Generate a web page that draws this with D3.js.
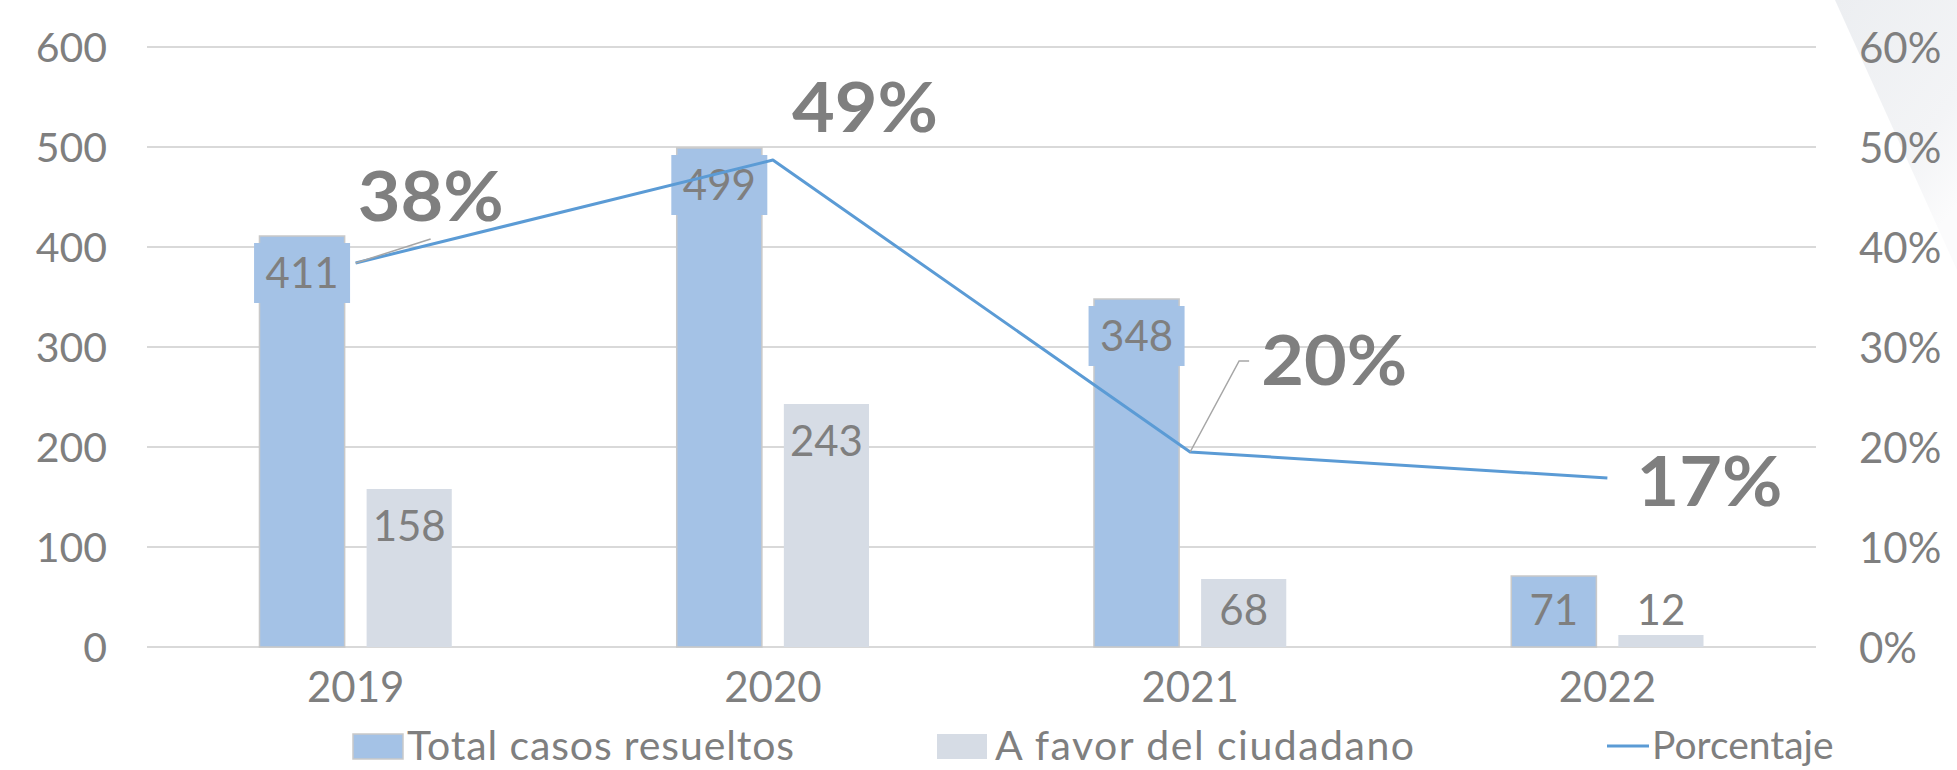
<!DOCTYPE html>
<html>
<head>
<meta charset="utf-8">
<script src="https://cdn.jsdelivr.net/npm/d3@7"></script>
<style>
  html, body { margin: 0; padding: 0; background: #ffffff; }
  svg { display: block; }
  text { font-family: Lato, "Noto Sans", sans-serif; fill: #7f7f7f; }
</style>
</head>
<body>
<svg id="chart" width="1957" height="770"></svg>
<script>
// ---- data ----
const years = ["2019", "2020", "2021", "2022"];
const totalCasos = [411, 499, 348, 71];
const aFavor = [158, 243, 68, 12];
const porcentaje = [0.384, 0.487, 0.195, 0.169];
const porcentajeLabels = ["38%", "49%", "20%", "17%"];
const leftTicks = [0, 100, 200, 300, 400, 500, 600];
const rightTicks = [0, 0.1, 0.2, 0.3, 0.4, 0.5, 0.6];
const seriesNames = ["Total casos resueltos", "A favor del ciudadano", "Porcentaje"];

// ---- layout ----
const W = 1957, H = 770;
const plot = { left: 147, right: 1816, top: 47, bottom: 647 };
const colors = { total: "#a4c2e6", favor: "#d6dce5", line: "#5b9bd5", grid: "#d9d9d9", text: "#7f7f7f", leader: "#a6a6a6" };

const svg = d3.select("#chart");

// background decoration (top-right slide texture)
const defs = svg.append("defs");
const grad = defs.append("linearGradient").attr("id", "bgGrad")
  .attr("x1", "0").attr("y1", "0").attr("x2", "0.6").attr("y2", "1");
grad.append("stop").attr("offset", "0%").attr("stop-color", "#eceef1");
grad.append("stop").attr("offset", "70%").attr("stop-color", "#f3f4f6");
grad.append("stop").attr("offset", "100%").attr("stop-color", "#fbfbfc");
svg.append("path")
  .attr("d", "M1835,0 L1957,0 L1957,270 Z")
  .attr("fill", "url(#bgGrad)");

const x0 = d3.scaleBand().domain(years).range([plot.left, plot.right]);
const x1 = d3.scaleBand().domain(["total", "favor"]).range([0, x0.bandwidth()])
  .paddingInner(0.205).paddingOuter(1.05);
const y = d3.scaleLinear().domain([0, 600]).range([plot.bottom, plot.top]);
const yR = d3.scaleLinear().domain([0, 0.6]).range([plot.bottom, plot.top]);

// gridlines
svg.append("g").selectAll("line").data(leftTicks).join("line")
  .attr("x1", plot.left).attr("x2", plot.right)
  .attr("y1", d => y(d)).attr("y2", d => y(d))
  .attr("stroke", colors.grid).attr("stroke-width", 2);

// left axis
const leftAxis = svg.append("g").attr("transform", `translate(${plot.left},0)`)
  .call(d3.axisLeft(y).tickValues(leftTicks).tickSize(0).tickPadding(40));
leftAxis.select(".domain").remove();
leftAxis.selectAll("text").style("font-size", "41px").attr("fill", colors.text).attr("dy", "0.36em");

// right axis
const rightAxis = svg.append("g").attr("transform", `translate(${plot.right},0)`)
  .call(d3.axisRight(yR).tickValues(rightTicks).tickSize(0).tickPadding(43).tickFormat(d3.format(".0%")));
rightAxis.select(".domain").remove();
rightAxis.selectAll("text").style("font-size", "42px").attr("fill", colors.text).attr("dy", "0.36em");

// bottom axis
const bottomAxis = svg.append("g").attr("transform", `translate(0,${plot.bottom})`)
  .call(d3.axisBottom(x0).tickSize(0).tickPadding(40));
bottomAxis.select(".domain").remove();
bottomAxis.selectAll("text").style("font-size", "42px").attr("fill", colors.text).attr("dy", "0.36em");

// data rows
const rows = years.map((yr, i) => ({ year: yr, total: totalCasos[i], favor: aFavor[i], pct: porcentaje[i], pctLabel: porcentajeLabels[i] }));

const groups = svg.append("g").selectAll("g").data(rows).join("g")
  .attr("transform", d => `translate(${x0(d.year)},0)`);

// bars
groups.append("rect")
  .attr("x", x1("total")).attr("width", x1.bandwidth())
  .attr("y", d => y(d.total)).attr("height", d => y(0) - y(d.total))
  .attr("fill", colors.total).attr("stroke", "#c9c9c9").attr("stroke-width", 1.5);
groups.append("rect")
  .attr("x", x1("favor")).attr("width", x1.bandwidth())
  .attr("y", d => y(d.favor)).attr("height", d => y(0) - y(d.favor))
  .attr("fill", colors.favor);

// data labels
const labelY = v => Math.min(y(v) + 37, y(0) - 37);
groups.filter(d => y(d.total) + 37 < y(0) - 37).append("rect")
  .attr("x", x1("total") + x1.bandwidth() / 2 - 48).attr("width", 96)
  .attr("y", d => labelY(d.total) - 30).attr("height", 60)
  .attr("fill", colors.total);
groups.append("text")
  .attr("x", x1("total") + x1.bandwidth() / 2)
  .attr("y", d => labelY(d.total))
  .attr("dy", "0.36em").attr("text-anchor", "middle")
  .style("font-size", "42px")
  .text(d => d.total);
groups.append("text")
  .attr("x", x1("favor") + x1.bandwidth() / 2)
  .attr("y", d => labelY(d.favor))
  .attr("dy", "0.36em").attr("text-anchor", "middle")
  .style("font-size", "42px")
  .text(d => d.favor);

// line
const cx = d => x0(d.year) + x0.bandwidth() / 2;
const line = d3.line().x(cx).y(d => yR(d.pct));
svg.append("path").datum(rows)
  .attr("d", line).attr("fill", "none")
  .attr("stroke", colors.line).attr("stroke-width", 3).attr("stroke-linejoin", "round");

// percentage labels (offsets relative to the point)
const pctOffsets = [
  { dx: 75, dy: -42, leader: [[75, -24]] },
  { dx: 92, dy: -28, leader: null },
  { dx: 144, dy: -67, leader: [[49, -91], [59, -91]] },
  { dx: 102, dy: 28, leader: null }
];
rows.forEach((d, i) => {
  const px = cx(d), py = yR(d.pct);
  const o = pctOffsets[i];
  if (o.leader) {
    const pts = [[px, py]].concat(o.leader.map(p => [px + p[0], py + p[1]]));
    svg.append("path").attr("d", d3.line()(pts))
      .attr("fill", "none").attr("stroke", colors.leader).attr("stroke-width", 1.5);
  }
  svg.append("text")
    .attr("x", px + o.dx).attr("y", py + o.dy)
    .attr("text-anchor", "middle")
    .style("font-size", "68px").style("font-weight", "bold")
    .attr("textLength", 146).attr("lengthAdjust", "spacingAndGlyphs")
    .text(d.pctLabel);
});

// legend
const legend = svg.append("g");
const legY = 745;
const legItems = [
  { name: seriesNames[0], type: "rect", color: colors.total, x: 353, tx: 407, w: 387, fs: 41 },
  { name: seriesNames[1], type: "rect", color: colors.favor, x: 937, tx: 995, w: 419, fs: 41 },
  { name: seriesNames[2], type: "line", color: colors.line, x: 1607, tx: 1652, w: null, fs: 39 }
];
legItems.forEach(it => {
  if (it.type === "rect") {
    legend.append("rect").attr("x", it.x).attr("y", legY - 11).attr("width", 50).attr("height", 25)
      .attr("fill", it.color).attr("stroke", it.color === colors.total ? "#c9c9c9" : "none").attr("stroke-width", 1.5);
  } else {
    legend.append("line").attr("x1", it.x).attr("x2", it.x + 42).attr("y1", legY + 1).attr("y2", legY + 1)
      .attr("stroke", it.color).attr("stroke-width", 3);
  }
  const t = legend.append("text").attr("x", it.tx).attr("y", legY).attr("dy", "0.36em")
    .style("font-size", it.fs + "px")
    .text(it.name);
  if (it.w) t.attr("textLength", it.w).attr("lengthAdjust", "spacing");
});
</script>
</body>
</html>
